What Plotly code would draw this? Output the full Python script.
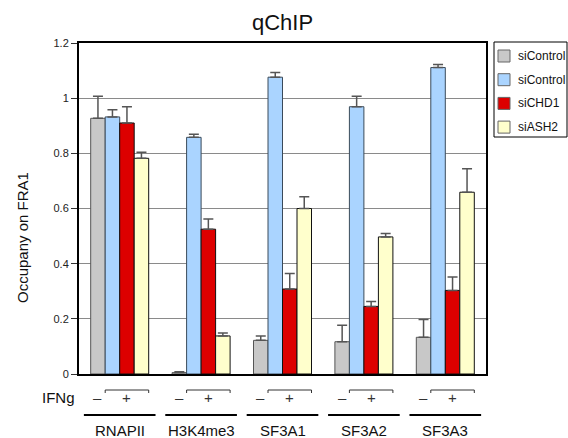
import plotly.graph_objects as go

categories = ["RNAPII", "H3K4me3", "SF3A1", "SF3A2", "SF3A3"]
series_names = ["siControl", "siControl", "siCHD1", "siASH2"]
ctrl_minus = [0.927, 0.005, 0.122, 0.117, 0.133]
ctrl_minus_err = [0.080, 0.003, 0.016, 0.060, 0.065]
ctrl_plus = [0.932, 0.858, 1.076, 0.969, 1.111]
ctrl_plus_err = [0.026, 0.011, 0.017, 0.038, 0.011]
chd1 = [0.910, 0.525, 0.308, 0.245, 0.303]
chd1_err = [0.059, 0.037, 0.056, 0.018, 0.049]
ash2 = [0.782, 0.138, 0.600, 0.497, 0.659]
ash2_err = [0.022, 0.011, 0.043, 0.012, 0.085]
ifng_labels = ["\u2013", "+"]

values = [ctrl_minus, ctrl_plus, chd1, ash2]
errors = [ctrl_minus_err, ctrl_plus_err, chd1_err, ash2_err]
colors = ["#c8c8c8", "#aad4ff", "#dd0000", "#ffffcc"]
outlines = ["#555555", "#3a4a5a", "#111111", "#111111"]

FONT = "Liberation Sans, Arial, sans-serif"
W, H = 568, 438
ML, MT = 79, 43
PW, PH = 486 - 79, 374 - 43
MR, MB = W - ML - PW, H - MT - PH


def px_x(page_x):
    return (page_x - ML) / PW


def px_y(page_y):
    return (MT + PH - page_y) / PH


def py(px):
    return -px / PH


fig = go.Figure()
for name, v, e, c, oc in zip(series_names, values, errors, colors, outlines):
    fig.add_trace(go.Bar(
        x=categories, y=v, name=name, showlegend=False,
        marker=dict(color=c, line=dict(color=oc, width=1)),
        error_y=dict(type="data", array=e, arrayminus=[0] * len(e), symmetric=False,
                     color="#555555", thickness=1.5, width=5),
    ))

bargap = 0.2875
gw = 1 - bargap
bw = gw / 4

shapes = []
annotations = []
for i, cat in enumerate(categories):
    minus_x = i - gw / 2 + bw / 2
    plus_x = i - gw / 2 + bw * 2.5
    bl = i - gw / 2 + bw
    br = i + gw / 2
    shapes.append(dict(type="path", xref="x", yref="paper",
                       path=f"M {bl},{py(19)} L {bl},{py(16)} L {br},{py(16)} L {br},{py(19)}",
                       line=dict(color="#333333", width=1)))
    shapes.append(dict(type="line", xref="x", yref="paper",
                       x0=i - 0.44, x1=i + 0.44, y0=py(41), y1=py(41),
                       line=dict(color="black", width=2)))
    annotations.append(dict(x=minus_x, y=py(23), xref="x", yref="paper", text=ifng_labels[0],
                            yanchor="middle", showarrow=False,
                            font=dict(size=15, color="#333", family=FONT)))
    annotations.append(dict(x=plus_x, y=py(23), xref="x", yref="paper", text=ifng_labels[1],
                            yanchor="middle", showarrow=False,
                            font=dict(size=15, color="#333", family=FONT)))
    annotations.append(dict(x=i, y=py(56), xref="x", yref="paper", text=cat,
                            yanchor="middle", showarrow=False,
                            font=dict(size=15, color="#111", family=FONT)))

annotations.append(dict(x=px_x(77), y=py(23), xref="paper", yref="paper", text="IFNg",
                        xanchor="right", yanchor="middle", showarrow=False,
                        font=dict(size=15, color="#111", family=FONT)))
# y-axis title
annotations.append(dict(x=px_x(22), y=px_y(238), xref="paper", yref="paper",
                        text="Occupany on FRA1", textangle=-90, showarrow=False,
                        xanchor="center", yanchor="middle",
                        font=dict(size=15, color="#111", family=FONT)))

# legend box drawn from the series names and colours
shapes.append(dict(type="rect", xref="paper", yref="paper",
                   x0=px_x(494), x1=px_x(567), y0=px_y(42), y1=px_y(137),
                   line=dict(color="black", width=1), fillcolor="white"))
for k, (name, c) in enumerate(zip(series_names, colors)):
    cy = 56 + k * 23.7
    shapes.append(dict(type="rect", xref="paper", yref="paper",
                       x0=px_x(498), x1=px_x(510), y0=px_y(cy - 6), y1=px_y(cy + 6),
                       line=dict(color="#666666", width=1), fillcolor=c))
    annotations.append(dict(x=px_x(516), y=px_y(cy), xref="paper", yref="paper",
                            text=name, xanchor="left", yanchor="middle", showarrow=False,
                            font=dict(size=12, color="#111", family=FONT)))

fig.update_layout(
    width=W, height=H,
    margin=dict(l=ML, r=MR, t=MT, b=MB, autoexpand=False),
    paper_bgcolor="white", plot_bgcolor="white",
    barmode="group", bargap=bargap, bargroupgap=0,
    font=dict(family=FONT, color="#111"),
    showlegend=False,
    title=dict(text="qChIP", x=0.5, xref="paper", y=1 - 22 / H, yanchor="middle",
               font=dict(size=22, family=FONT, color="#111")),
    xaxis=dict(showticklabels=False, ticks="", showgrid=False, showline=True,
               linecolor="black", linewidth=2, mirror=True, range=[-0.5, 4.5]),
    yaxis=dict(range=[0, 1.2], dtick=0.2, tick0=0, showgrid=True, gridcolor="#8a8a8a",
               gridwidth=1, showline=True, linecolor="black", linewidth=2, mirror=True,
               ticks="outside", ticklen=6, tickcolor="#333", tickwidth=1,
               tickfont=dict(size=11, family=FONT, color="#222"),
               zeroline=False),
    shapes=shapes, annotations=annotations,
)

fig.write_html(
    "out.html",
    config={"displayModeBar": False},
    post_script="document.body.style.margin='0';document.body.style.overflow='hidden';",
)
